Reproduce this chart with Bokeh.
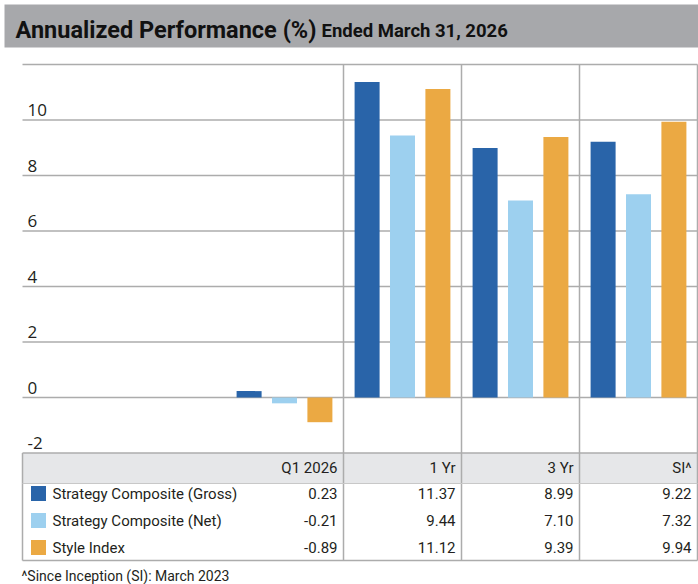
from bokeh.plotting import figure
from bokeh.models import Range1d
from bokeh.core.properties import value
from bokeh.embed import file_html
from bokeh.resources import INLINE

# ---------------- data ----------------
periods = ["Q1 2026", "1 Yr", "3 Yr", "SI^"]
series_names = ["Strategy Composite (Gross)", "Strategy Composite (Net)", "Style Index"]
gross = [0.23, 11.37, 8.99, 9.22]
net = [-0.21, 9.44, 7.10, 7.32]
style_index = [-0.89, 11.12, 9.39, 9.94]
y_tick_labels = [-2, 0, 2, 4, 6, 8, 10]
grid_values = [0, 2, 4, 6, 8, 10, 12]
title_text = "Annualized Performance (%)"
subtitle_text = "Ended March 31, 2026"
footnote_text = "^Since Inception (SI): March 2023"

series = [gross, net, style_index]
colors = ["#2964a9", "#9dd0ef", "#eba943"]
offsets = [-0.30, 0.0, 0.30]

# ---------------- layout helpers (canvas-pixel -> data) ----------------
W, H = 698, 584
CAT_PX = 118.0     # width of one period column in px
CAT0 = 284.0       # centre of first period column (px)
UNIT_PX = 27.75    # px per percentage point
ZERO = 397.0       # y pixel of value 0


def fx(px):
    return (px - CAT0) / CAT_PX


def fy(py):
    return (ZERO - py) / UNIT_PX


NARROW = value("Roboto")
TICKF = value("Open Sans")
TXT = "#231f20"
LINE = "#acacac"

p = figure(width=W, height=H, output_backend="svg", toolbar_location=None,
           x_axis_location=None, y_axis_location=None, min_border=0,
           x_range=Range1d(fx(0), fx(W)), y_range=Range1d(fy(H), fy(0)))
p.outline_line_color = None
p.background_fill_color = "white"
p.border_fill_color = "white"
p.xgrid.visible = False
p.ygrid.visible = False

# title band
p.quad(left=[fx(4)], right=[fx(W)], top=[fy(4)], bottom=[fy(47)],
       fill_color="#a7a8ab", line_color=None)
p.text(x=[fx(15)], y=[fy(29)], text=[title_text], text_font=NARROW,
       text_font_style="bold", text_font_size="23.5px", text_color="#111111",
       text_baseline="middle")
p.text(x=[fx(321)], y=[fy(30.5)], text=[subtitle_text], text_font=NARROW,
       text_font_style="bold", text_font_size="18.5px", text_color="#111111",
       text_baseline="middle")

# table header fill
right_edge = len(periods) - 0.5
p.quad(left=[fx(22)], right=[right_edge], top=[y_tick_labels[0]], bottom=[fy(483)],
       fill_color="#e6e7e9", line_color=None)

# horizontal grid lines
p.segment(x0=fx(22), x1=right_edge, y0=grid_values, y1=grid_values,
          line_color=LINE, line_width=1.5)
p.segment(x0=[fx(22)], x1=[right_edge], y0=[y_tick_labels[0]], y1=[y_tick_labels[0]],
          line_color=LINE, line_width=1.5)

# bars
for vals, col, off in zip(series, colors, offsets):
    p.vbar(x=[i + off for i in range(len(periods))], top=vals, bottom=0,
           width=25 / CAT_PX, fill_color=col, line_color=None)

# vertical separators
vx = [i + 0.5 for i in range(len(periods))]
p.segment(x0=vx, x1=vx, y0=grid_values[-1], y1=fy(560), line_color=LINE, line_width=1.5)
p.segment(x0=[fx(22)], x1=[fx(22)], y0=[y_tick_labels[0]], y1=[fy(560)],
          line_color=LINE, line_width=1.5)
p.segment(x0=[fx(22)], x1=[right_edge], y0=[fy(560)], y1=[fy(560)],
          line_color=LINE, line_width=1.5)
p.segment(x0=[fx(22)], x1=[right_edge], y0=[fy(483)], y1=[fy(483)],
          line_color="#c8c8c8", line_width=1)

# y tick labels (sitting above their grid lines)
p.text(x=[fx(27)] * len(y_tick_labels), y=y_tick_labels,
       text=[str(t) for t in y_tick_labels], text_font=TICKF,
       text_font_size="17px", text_color=TXT, text_baseline="middle", y_offset=-10)

# table header
col_right = [i + 0.5 - 6 / CAT_PX for i in range(len(periods))]
p.text(x=col_right, y=[fy(467)] * len(periods), text=periods, text_font=NARROW,
       text_font_size="15px", text_color=TXT, text_align="right", text_baseline="middle")

# table rows
for r, (name, vals, col) in enumerate(zip(series_names, series, colors)):
    ry = fy(493 + 27 * r)
    p.scatter(x=[fx(38)], y=[ry], marker="square", size=15, fill_color=col, line_color=None)
    p.text(x=[fx(52)], y=[ry], text=[name], text_font=NARROW, text_font_size="15px",
           text_color=TXT, text_baseline="middle")
    p.text(x=col_right, y=[ry] * len(vals), text=["%.2f" % v for v in vals],
           text_font=NARROW, text_font_size="15px", text_color=TXT,
           text_align="right", text_baseline="middle")

# footnote
p.text(x=[fx(21)], y=[fy(575)], text=[footnote_text], text_font=NARROW,
       text_font_size="14px", text_color=TXT, text_baseline="middle")

open("out.html", "w").write(file_html(p, INLINE))
